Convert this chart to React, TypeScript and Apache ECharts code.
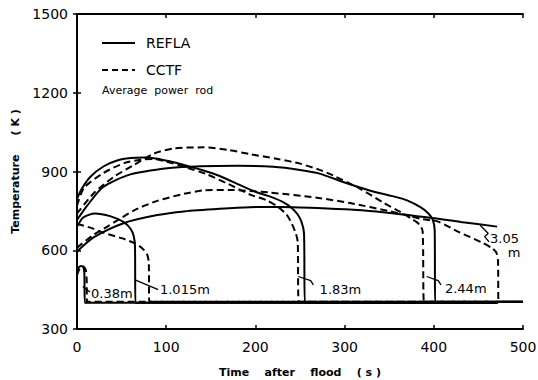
import React, { useEffect, useRef } from "react";
import * as echarts from "echarts";

// Cladding temperature histories, [time after flood (s), temperature (K)]
// REFLA (solid) and CCTF (dashed) at five elevations.
const refla038 = [[0, 515], [2, 535], [5, 540], [7.5, 532], [8.3, 505], [8.8, 400], [12, 400], [472, 400]];
const cctf038 = [[0, 505], [3, 530], [7, 538], [9.8, 525], [10.8, 490], [11.3, 404], [14, 404], [500, 404]];

const refla1015 = [[0, 690], [7, 725], [20, 740], [37, 730], [52, 708], [60, 682], [63.5, 655], [65, 615], [65.5, 400], [69, 400], [472, 400]];
const cctf1015 = [[0, 700], [15, 686], [30, 666], [50, 646], [65, 626], [73, 608], [78.5, 585], [80.5, 552], [81, 404], [85, 404], [500, 404]];

const refla183 = [[0, 795], [5, 832], [15, 880], [30, 920], [45, 942], [60, 951], [75, 953], [90, 949], [105, 938], [120, 925], [140, 906], [160, 883], [183, 848], [200, 823], [216, 805], [230, 785], [240, 763], [247, 738], [251.5, 710], [254.5, 665], [255.5, 400], [259, 400], [472, 400]];
const cctf183 = [[0, 770], [8, 838], [30, 895], [53, 932], [72, 945], [85, 948], [100, 938], [120, 918], [145, 890], [170, 852], [194, 812], [213, 790], [225, 766], [235, 736], [241, 700], [245.5, 662], [247.5, 630], [248.5, 404], [252, 404], [500, 404]];

const refla244 = [[0, 715], [11, 768], [29, 840], [59, 888], [104, 913], [138, 920], [180, 922], [220, 918], [250, 906], [272, 892], [300, 858], [330, 826], [354, 806], [370, 790], [385, 764], [394, 740], [399, 715], [401, 675], [401.5, 400], [405, 400], [472, 400]];
const cctf244 = [[0, 740], [19, 818], [41, 879], [64, 925], [86, 968], [109, 988], [142, 992], [170, 982], [194, 966], [225, 948], [250, 930], [272, 906], [287, 885], [317, 835], [343, 782], [363, 745], [376, 718], [384, 698], [387.5, 672], [389, 404], [393, 404], [500, 404]];

const refla305 = [[0, 595], [19, 650], [53, 704], [90, 734], [120, 748], [160, 758], [194, 764], [230, 765], [269, 761], [310, 754], [343, 745], [398, 723], [430, 708], [471, 690]];
const cctf305 = [[0, 610], [19, 660], [34, 690], [64, 752], [90, 788], [120, 815], [142, 828], [170, 830], [194, 826], [216, 820], [269, 800], [306, 780], [351, 748], [388, 718], [404, 710], [429, 668], [455, 628], [466, 606], [470.5, 588], [472, 560], [472.5, 404], [476, 404], [500, 404]];

const reflaCurves = [refla038, refla1015, refla183, refla244, refla305];
const cctfCurves = [cctf038, cctf1015, cctf183, cctf244, cctf305];

// Leader lines from the curves to their elevation labels
const leaders = [
  [[6.5, 462], [14.5, 441]],
  [[65, 487], [91, 450]],
  [[248, 500], [262, 484], [265, 468]],
  [[392, 500], [405, 484], [408, 468]],
  [[452, 695], [457, 678], [461, 664], [457, 652], [462, 632]],
];

// Elevation labels: [time, temperature, text]
const elevationLabels: [number, number, string][] = [
  [15.7, 437, "0.38m"],
  [93, 449, "1.015m"],
  [272, 452, "1.83m"],
  [412.5, 456, "2.44m"],
  [463, 646, "3.05"],
  [483, 592, "m"],
];

const xTicks = [0, 100, 200, 300, 400, 500];
const yTicks = [300, 600, 900, 1200, 1500];

const INK = "#000";
const FONT = "DejaVu Sans";

export default function App() {
  const ref = useRef<HTMLDivElement>(null);

  useEffect(() => {
    if (!ref.current) return;
    const chart = echarts.init(ref.current, undefined, { renderer: "svg" });

    const curve = (data: number[][], dashed: boolean) => ({
      type: "line",
      data,
      smooth: 0.25,
      symbol: "none",
      silent: true,
      lineStyle: {
        color: INK,
        width: 2,
        type: dashed ? [7, 4] : "solid",
      },
    });

    const series: any[] = [
      ...cctfCurves.map((d) => curve(d, true)),
      ...reflaCurves.map((d) => curve(d, false)),
      ...leaders.map((d) => ({
        type: "line",
        data: d,
        symbol: "none",
        silent: true,
        lineStyle: { color: INK, width: 1.3 },
      })),
      {
        type: "scatter",
        symbolSize: 0,
        silent: true,
        itemStyle: { opacity: 1, color: INK },
        data: elevationLabels.map(([t, v, s]) => ({ value: [t, v], name: s })),
        label: {
          show: true,
          position: "right",
          distance: 0,
          formatter: (p: any) => p.name,
          color: INK,
          opacity: 1,
          fontFamily: FONT,
          fontSize: 13,
        },
      },
    ];

    const axisCommon = {
      min: 0,
      max: 500,
      interval: 100,
      axisLine: { show: true, lineStyle: { color: INK, width: 1.8 } },
      axisTick: { show: true, inside: true, length: 4, lineStyle: { color: INK, width: 1.5 } },
      splitLine: { show: false },
    };
    const yCommon = {
      min: 300,
      max: 1500,
      interval: 300,
      axisLine: { show: true, lineStyle: { color: INK, width: 1.8 } },
      axisTick: { show: true, inside: true, length: 4, lineStyle: { color: INK, width: 1.5 } },
      splitLine: { show: false },
    };

    chart.setOption({
      animation: false,
      backgroundColor: "#fff",
      grid: { left: 77, right: 15, top: 14, bottom: 51, outerBoundsMode: "none", containLabel: false },
      xAxis: [
        {
          type: "value",
          ...axisCommon,
          position: "bottom",
          name: "Time    after    flood    ( s )",
          nameLocation: "middle",
          nameGap: 38,
          nameTextStyle: { color: INK, fontFamily: FONT, fontSize: 11, fontWeight: "bold" },
          axisLabel: {
            color: INK,
            fontFamily: FONT,
            fontSize: 14,
            margin: 11,
            formatter: (v: number) => (xTicks.includes(v) ? String(v) : ""),
          },
        },
        {
          type: "value",
          ...axisCommon,
          position: "top",
          axisLabel: { show: false },
        },
      ],
      yAxis: [
        {
          type: "value",
          ...yCommon,
          position: "left",
          name: "Temperature     ( K )",
          nameLocation: "middle",
          nameGap: 54,
          nameTextStyle: { color: INK, fontFamily: FONT, fontSize: 11, fontWeight: "bold" },
          axisLabel: {
            color: INK,
            fontFamily: FONT,
            fontSize: 14,
            margin: 9,
            formatter: (v: number) => (yTicks.includes(v) ? String(v) : ""),
          },
        },
        {
          type: "value",
          ...yCommon,
          position: "right",
          axisLabel: { show: false },
        },
      ],
      graphic: [
        { type: "line", shape: { x1: 102, y1: 43, x2: 135, y2: 43 }, style: { stroke: INK, lineWidth: 2 } },
        {
          type: "text",
          x: 146,
          y: 43,
          style: { text: "REFLA", fill: INK, font: `14px "${FONT}"`, verticalAlign: "middle" },
        },
        {
          type: "line",
          shape: { x1: 102, y1: 70, x2: 135, y2: 70 },
          style: { stroke: INK, lineWidth: 2, lineDash: [6, 4] },
        },
        {
          type: "text",
          x: 146,
          y: 70,
          style: { text: "CCTF", fill: INK, font: `14px "${FONT}"`, verticalAlign: "middle" },
        },
        {
          type: "text",
          x: 102,
          y: 90,
          style: { text: "Average  power  rod", fill: INK, font: `11px "${FONT}"`, verticalAlign: "middle" },
        },
      ],
      series,
    });

    return () => chart.dispose();
  }, []);

  return (
    <div
      ref={ref}
      style={{ position: "fixed", left: 0, top: 0, width: 538, height: 380, background: "#fff" }}
    />
  );
}
